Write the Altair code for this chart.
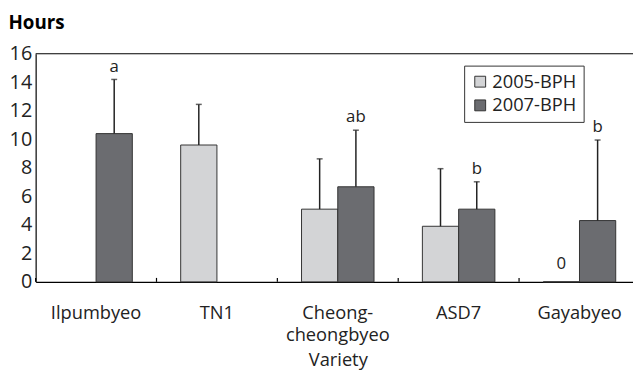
import altair as alt
import pandas as pd

varieties = ["Ilpumbyeo", "TN1", "Cheong-cheongbyeo", "ASD7", "Gayabyeo"]
series = ["2005-BPH", "2007-BPH"]
bph2005 = [None, 9.6, 5.1, 3.9, 0.0]
bph2005_upper = [None, 12.45, 8.63, 7.94, None]
bph2005_label = ["", "", "", "", "0"]
bph2007 = [10.4, None, 6.67, 5.1, 4.3]
bph2007_upper = [14.2, None, 10.64, 7.02, 9.95]
bph2007_label = ["a", "", "ab", "b", "b"]
y_ticks = [0, 2, 4, 6, 8, 10, 12, 14, 16]

rows = []
for i, v in enumerate(varieties):
    for s, vals, ups, labs in [
        (series[0], bph2005, bph2005_upper, bph2005_label),
        (series[1], bph2007, bph2007_upper, bph2007_label),
    ]:
        if vals[i] is None:
            continue
        rows.append({"variety": v, "series": s, "value": vals[i],
                     "upper": ups[i], "label": labs[i]})
df = pd.DataFrame(rows)
cats = pd.DataFrame({"variety": varieties})

FONT = "Open Sans"
TXT = "#222222"
W, H = 612, 231

xscale = alt.Scale(domain=varieties, paddingInner=0, paddingOuter=0)
xoff = alt.XOffset("series:N", scale=alt.Scale(domain=series, paddingInner=0, paddingOuter=0.667))
yscale = alt.Scale(domain=[0, 16], nice=False)

x_axis = alt.Axis(title="Variety", ticks=False, tickSize=0, labelAngle=0,
                  labelFont=FONT, labelFontSize=18.5, labelColor=TXT,
                  labelPadding=22, labelLineHeight=22, labelBaseline="top",
                  labelExpr="datum.label == 'Cheong-cheongbyeo' ? ['Cheong-', 'cheongbyeo'] : datum.label",
                  titleFont=FONT, titleFontSize=18.5, titleFontWeight="normal",
                  titleColor=TXT, titleY=79, titleBaseline="middle",
                  domainColor="#000000", domainWidth=1.2)
y_axis = alt.Axis(title="Hours", values=y_ticks, ticks=False, tickSize=0, grid=False,
                  labelOverlap=False, labelFlush=False,
                  labelFont=FONT, labelFontSize=20, labelColor=TXT, labelPadding=4,
                  titleAngle=0, titleX=-28, titleY=-32, titleAlign="left",
                  titleBaseline="middle", titleFont=FONT, titleFontSize=19,
                  titleFontWeight="bold", titleColor="#000000",
                  domainColor="#000000", domainWidth=1.2)

xe = alt.X("variety:N", scale=xscale, sort=varieties, axis=x_axis)

def ye(field):
    return alt.Y(field, scale=yscale, axis=y_axis)

bars = alt.Chart(df).mark_bar(stroke="#333333", strokeWidth=1).encode(
    x=xe,
    xOffset=xoff,
    y=ye("value:Q"),
    color=alt.Color("series:N", scale=alt.Scale(domain=series, range=["#d3d4d6", "#6b6c70"]),
                    legend=alt.Legend(title=None, orient="none", legendX=434, legendY=12,
                                      strokeColor="#333333", fillColor="white", padding=7,
                                      rowPadding=5, labelFont=FONT, labelFontSize=18.5,
                                      labelColor=TXT, labelOffset=3, symbolType="square",
                                      symbolSize=121, symbolStrokeColor="#333333",
                                      symbolStrokeWidth=1)),
)

err = df.dropna(subset=["upper"])
err_rule = alt.Chart(err).mark_rule(color="#222222", strokeWidth=1.5).encode(
    x=xe,
    xOffset=xoff,
    y=ye("value:Q"),
    y2="upper:Q",
)
err_cap = alt.Chart(err).mark_tick(color="#222222", thickness=1.5, size=6, orient="horizontal").encode(
    x=xe,
    xOffset=xoff,
    y=ye("upper:Q"),
)

letters = alt.Chart(df[(df["label"] != "") & df["upper"].notna()]).mark_text(
    font=FONT, fontSize=17, color=TXT, baseline="alphabetic", dy=-8
).encode(
    x=xe,
    xOffset=xoff,
    y=ye("upper:Q"),
    text="label:N",
)
zero_lab = alt.Chart(df[(df["label"] != "") & df["upper"].isna()]).mark_text(
    font=FONT, fontSize=17, color=TXT, baseline="alphabetic", dy=-13
).encode(
    x=xe,
    xOffset=xoff,
    y=ye("value:Q"),
    text="label:N",
)

top_line = alt.Chart(pd.DataFrame({"top": [y_ticks[-1]]})).mark_rule(
    color="#000000", strokeWidth=1.2
).encode(y=ye("top:Q"))

band_ticks = alt.Chart(cats).mark_rule(color="#000000", strokeWidth=1.2).encode(
    x=alt.X("variety:N", scale=xscale, sort=varieties, bandPosition=0, axis=x_axis),
    y=alt.value(H),
    y2=alt.value(H - 4),
)

chart = alt.layer(bars, err_rule, err_cap, letters, zero_lab, top_line, band_ticks).properties(
    width=W, height=H,
    autosize=alt.AutoSizeParams(type="none"),
    padding={"left": 28, "top": 44, "right": -7, "bottom": 95},
).configure_view(stroke=None)

chart.save("out.html", embed_options={"renderer": "svg", "actions": False})
